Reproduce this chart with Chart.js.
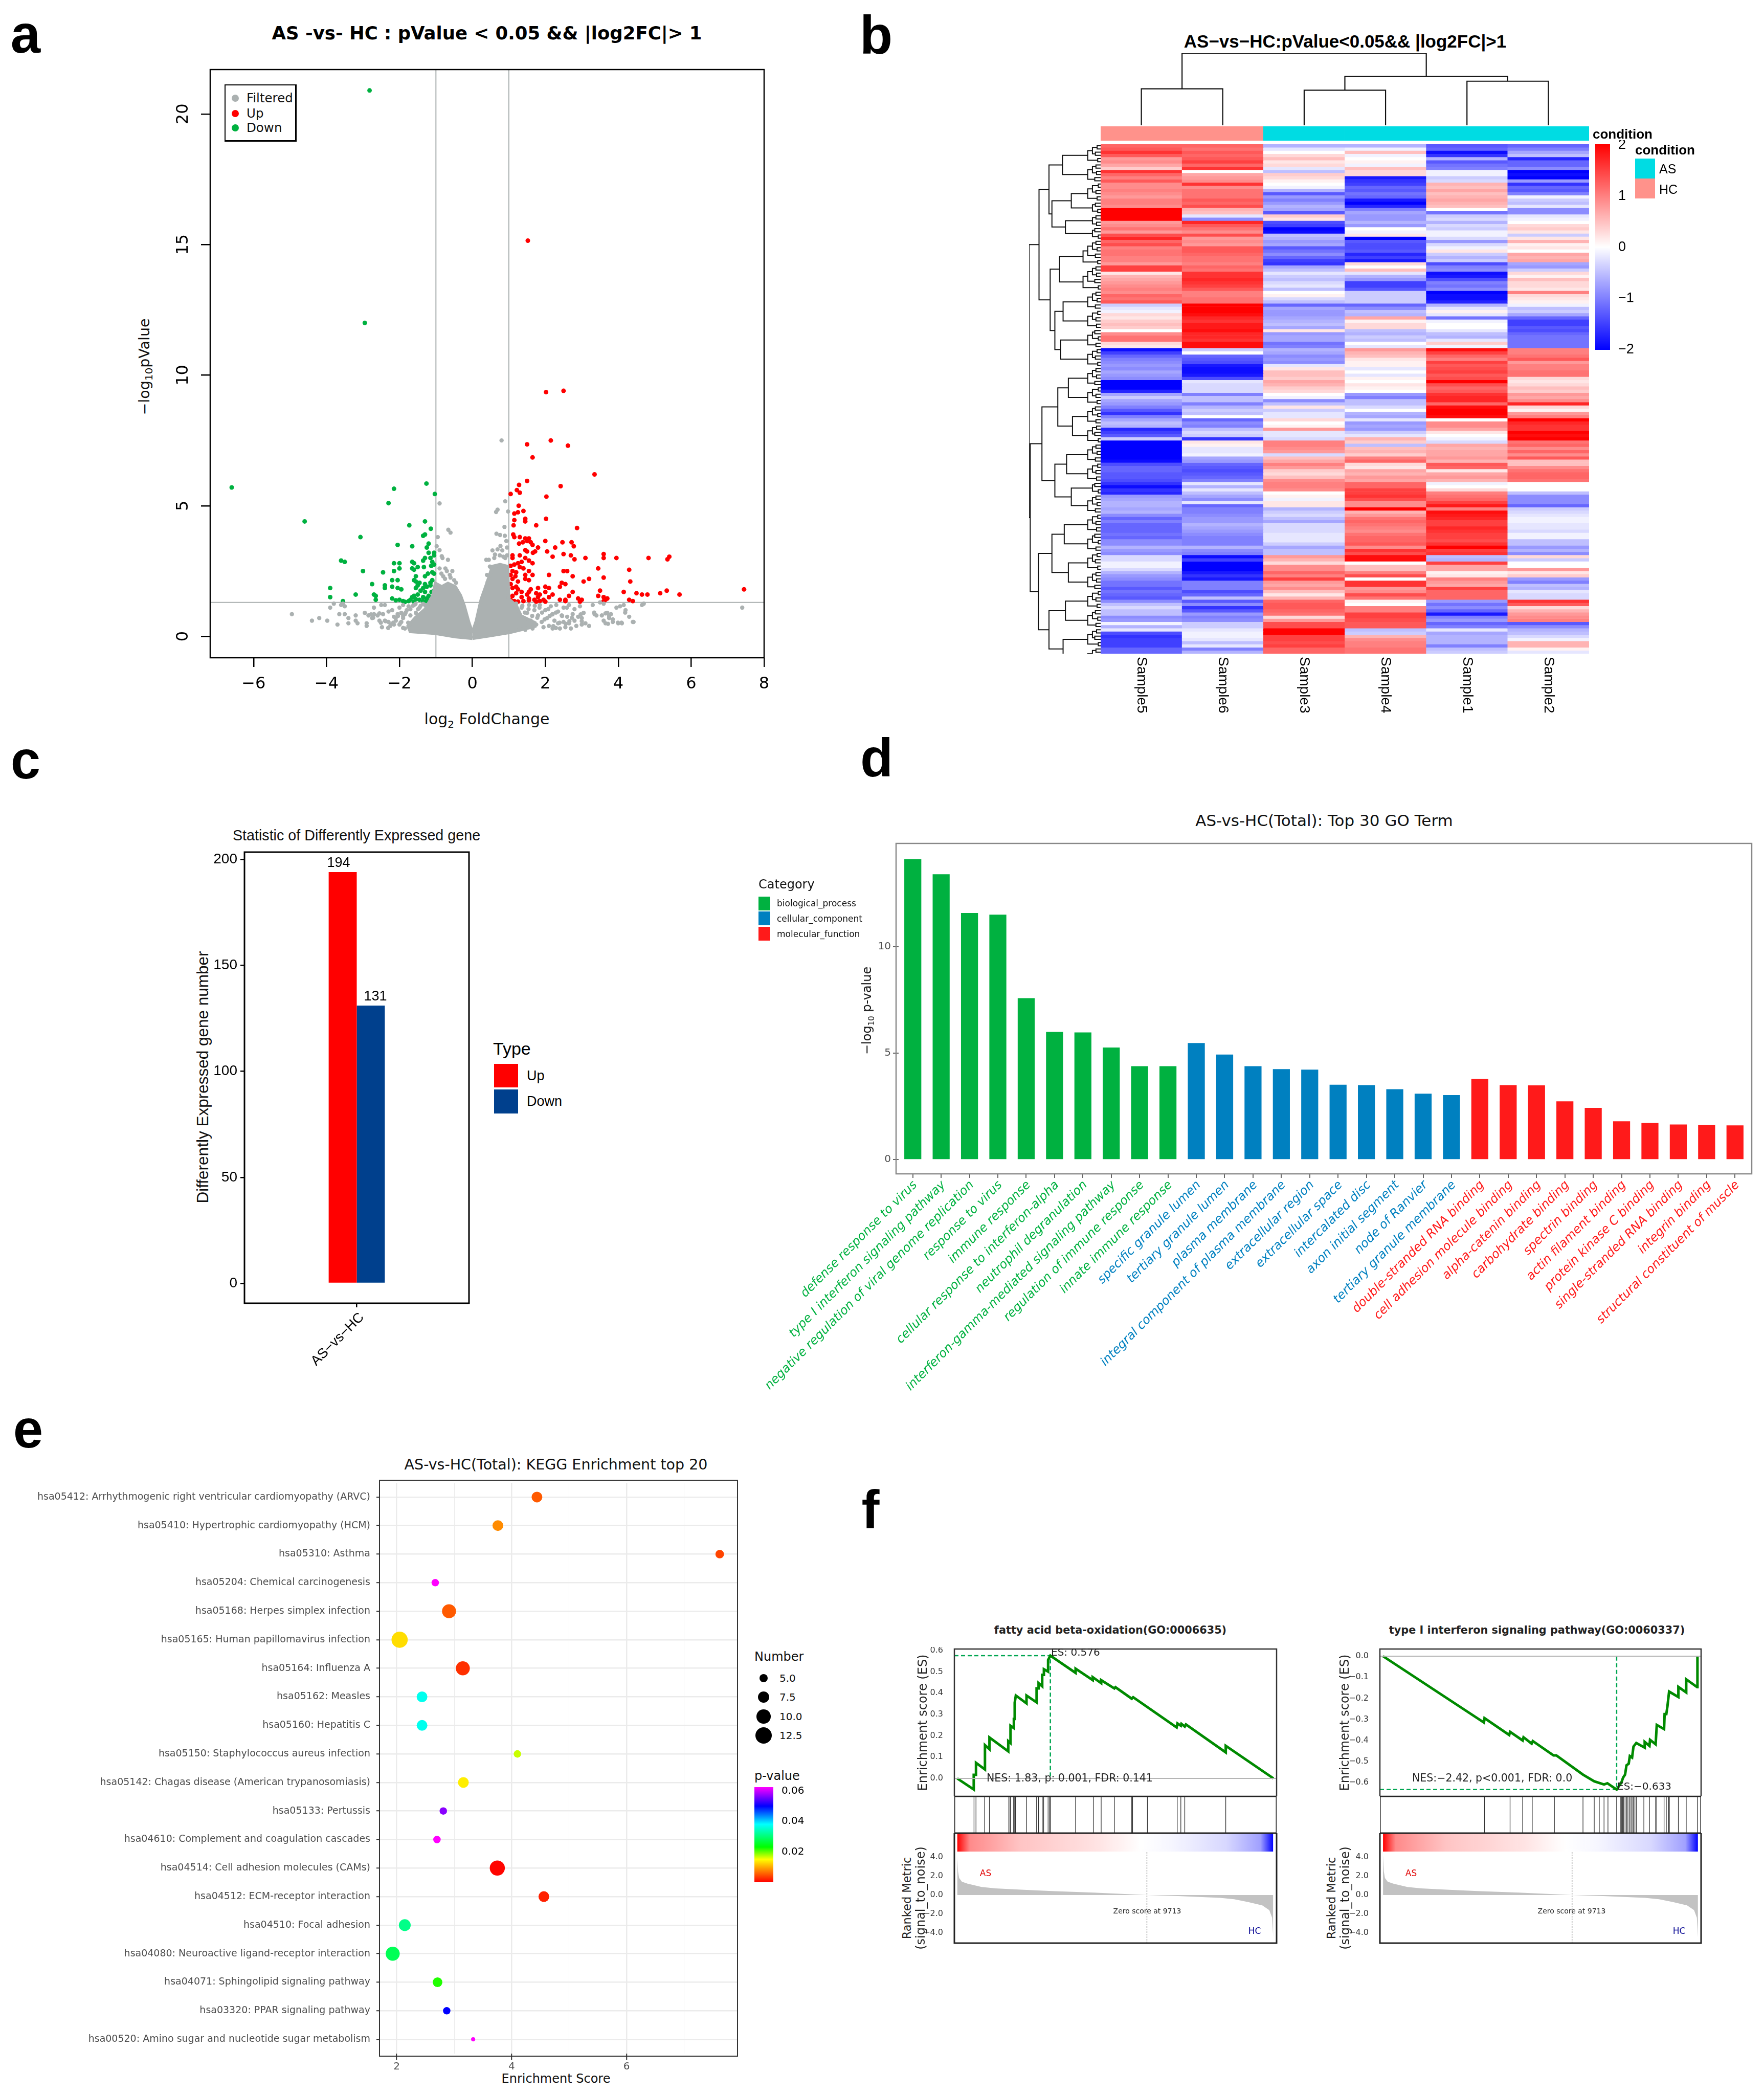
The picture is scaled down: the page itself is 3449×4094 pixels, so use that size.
<!DOCTYPE html>
<html>
<head>
<meta charset="utf-8">
<script src="https://cdn.jsdelivr.net/npm/chart.js@4"></script>
<style>
html, body { margin: 0; background: #fff; }
#page { position: relative; width: 3449px; height: 4094px; overflow: hidden; }
canvas { position: absolute; }
.t { position: absolute; white-space: pre; line-height: 1; color: #000; }
.s { position: absolute; }
</style>
</head>
<body>
<div id="page"></div>
<script>
/* a: volcano, [log2FC, -log10 p] */
const volcanoTicksX = [-6, -4, -2, 0, 2, 4, 6, 8];
const volcanoTicksY = [0, 5, 10, 15, 20];
const foldCut = [-1, 1];
const pvalueCut = [1.3];
const cloudLeft = [[0,.12],[-.1,.52],[-.23,1.17],[-.33,1.56],[-.47,1.89],[-.67,2.02],[-.84,1.89],[-1.01,2.02],[-1.08,1.56],[-1.29,1.04],[-1.56,.71],[-1.76,.39],[-1.7,.19],[-1.01,.12],[-.47,-.01],[0,-.07]];
const cloudRight = [[0,.12],[.11,.58],[.25,1.43],[.35,1.82],[.48,2.35],[.55,2.67],[.76,2.74],[.96,2.67],[.99,1.43],[1.2,1.17],[1.33,.78],[1.71,.52],[1.71,.39],[1.03,.16],[.48,.03],[0,-.07]];
const filteredPoints = [[.8,7.5],[-.9,5.09],[.9,5.17],[.98,4.78],[.65,4.76],[.69,4.85],[-.66,4.08],[-.6,3.97],[.88,4.19],[.66,3.93],[.76,3.88],[.89,3.85],[.93,3.65],[.77,3.46],[.69,3.33],[.55,3.29],[.82,3.29],[.62,3.13],[.38,2.93],[.45,2.93],[.48,2.67],[.4,2.35],[.42,2.08],[.95,3.4],[.95,3.1],[.9,3.0],[.6,3.0],[.75,3.1],[.85,3.05],
[-.95,3.8],[-.98,3.45],[-.9,3.3],[-.84,3.07],[-.82,3],[-.67,2.93],[-.9,2.6],[-.74,2.6],[-.7,2.5],[-.85,2.4],[-.8,2.3],[-.62,2.35],[-.55,2.5],[-.6,2.25],[-.75,2.2],[-.5,2.15],[-.45,2.05],
[-4.95,.85],[-4.4,.6],[-4.2,.7],[-3.98,.6],[-3.9,1.1],[-3.8,1.25],[-3.6,1.2],[-3.55,1.25],[-3.5,1.15],[-3.65,.85],[-3.5,.85],[-3.4,.7],[-3.7,.45],[-3.4,.5],[-3.2,.8],[-3.2,.6],[-3.15,.5],[-2.9,.5],[-2.9,.4],[-2.95,.9],[-2.85,.8],[-2.7,.85],[-2.7,1.1],[-2.75,.7],[-2.6,.8],[-2.55,.6],[-2.5,1.2],[-2.4,1.2],[-2.45,.85],[-2.4,.6],[-2.3,.55],[-2.25,.4],[-2.2,1.0],[-2.15,.75],[-2.1,.6],[-2.05,.85],[-2.0,.45],[-1.95,.9],[-1.9,1.2],[-1.9,.7],[-1.85,.3],[-1.8,1.0],[-1.75,.5],[-1.7,.8],[-1.65,.3],[-1.6,1.2],[-1.6,.6],[-1.55,.9],[-1.5,.25],[-1.5,.5],[-1.45,1.1],[-1.4,.7],[-1.35,.35],[-1.3,1.2],[-1.3,.9],[-1.25,.5],[-1.2,.25],[-1.15,1.0],[-1.1,.7],[-1.05,1.2],[-1.0,.4],[-2.3,.95],[-2.0,1.1],[-1.75,1.15],[-2.15,.45],[-1.95,.55],[-1.7,.4],[-1.85,.85],
[-2.1,.71],[-1.97,.52],[-1.9,.32],[-1.83,.91],[-1.7,1.04],[-1.63,1.17],[-1.56,1.24],[-1.49,1.04],[-1.76,.52],[-1.63,.45],[-1.9,.78],[-2.04,.78],[-2.24,.45],[-2.38,.58],[-2.17,.52],[-2.51,.52],[-2.72,.71],[-2.78,.84],[-2.55,.88],[-2.31,.32],[-2.48,.35],[-1.35,1.24],[-1.42,1.17],
[1.05,1.2],[1.1,.9],[1.15,.6],[1.2,1.25],[1.25,.35],[1.3,.8],[1.35,1.1],[1.4,.5],[1.45,.25],[1.5,.9],[1.55,1.2],[1.6,.6],[1.65,.3],[1.7,1.0],[1.75,.45],[1.8,.8],[1.85,1.2],[1.9,.55],[1.95,.35],[2.0,1.0],[2.05,.7],[2.1,.4],[2.15,1.15],[2.2,.85],[2.2,.3],[2.25,.6],[2.3,1.2],[2.35,.95],[2.35,.5],[2.4,.3],[2.45,.8],[2.5,1.1],[2.5,.55],[2.55,.35],[2.6,.75],[2.65,1.2],[2.65,.5],[2.7,.3],[2.75,.85],[2.8,.6],[2.85,.4],[2.9,.75],[2.95,1.15],[3.0,.7],[3.0,.45],[3.05,.9],[3.1,.5],[3.2,.4],[3.3,1.2],[3.35,.85],[3.4,.8],[3.5,1.3],[3.55,.8],[3.6,1.25],[3.6,.6],[3.65,.5],[3.7,.9],[3.75,.7],[3.8,.85],[3.85,.55],[3.95,1.1],[4.0,.5],[4.05,1.15],[4.1,.5],[4.15,1.2],[4.2,1.0],[4.3,.75],[4.4,.55],[4.65,1.2],[4.7,1.25],[7.4,1.1],
[1.23,1.04],[1.37,1.17],[1.44,.91],[1.54,1.04],[1.64,.78],[1.71,1.17],[1.78,.71],[1.84,1.1],[1.91,.91],[1.98,.65],[2.08,1.04],[2.12,.78],[2.19,.84],[2.22,.39],[2.29,.91],[2.29,.32],[2.39,.52],[2.46,.78],[2.56,.48],[2.66,.58],[2.73,.71],[2.59,1.1],[2.8,1.04],[2.97,.84],[3.0,.58],[3.34,.91],[3.65,.88],[3.75,.78],[3.72,.48],[3.85,.65],[4.19,.91],[3.99,.52],[4.09,.52],[4.42,.55]];
const upPoints = [[1.52,15.15],[2.02,9.35],[2.5,9.4],[2.15,7.5],[2.62,7.3],[1.5,7.35],[1.65,6.85],[3.35,6.2],[1.5,5.95],[1.28,5.8],[1.22,5.6],[1.3,5.5],[1.05,5.45],[2.42,5.75],[2.03,5.35],[1.27,5.0],[1.25,4.75],[1.15,4.7],[1.4,4.8],[1.15,4.45],[1.45,4.5],[1.45,4.4],[2.02,4.5],[1.13,4.25],[1.75,4.25],[2.87,4.15],[1.12,3.9],[1.15,3.8],[1.3,3.8],[1.45,3.75],[1.55,3.75],[1.5,3.65],[1.38,3.6],[1.6,3.6],[1.65,3.5],[1.28,3.55],[2.0,3.65],[2.47,3.6],[2.72,3.6],[2.78,3.45],[2.27,3.4],[1.8,3.4],[1.72,3.25],[1.66,3.2],[2.05,3.25],[1.3,3.1],[1.1,3.1],[1.5,3.25],[1.45,3.3],[2.5,3.15],[2.7,3.1],[2.2,3.05],[3.6,3.15],[3.6,3.0],[3.1,3.0],[2.8,2.95],[3.95,3.0],[4.83,3.0],[5.4,3.05],[5.35,2.95],[1.1,3.0],[1.45,3.0],[1.55,2.9],[1.35,2.85],[1.25,2.8],[1.15,2.75],[1.65,2.8],[1.05,2.7],[1.3,2.65],[1.4,2.6],[2.5,2.5],[2.6,2.5],[3.45,2.6],[4.3,2.55],[1.1,2.5],[1.2,2.45],[1.55,2.5],[1.05,2.35],[1.18,2.3],[1.45,2.35],[1.65,2.35],[2.1,2.35],[2.75,2.3],[3.6,2.25],[3.2,2.2],[3.05,2.1],[1.1,2.2],[1.25,2.1],[1.45,2.2],[1.55,2.15],[4.33,2.1],[2.45,2.05],[2.55,2.0],[1.05,2.0],[1.2,1.9],[2.0,1.9],[2.1,1.85],[2.4,1.9],[1.1,1.85],[1.25,1.8],[1.6,1.8],[1.8,1.85],[2.75,1.7],[3.5,1.75],[1.35,1.7],[1.55,1.7],[1.75,1.65],[2.0,1.7],[2.65,1.55],[3.45,1.55],[3.6,1.5],[1.2,1.65],[1.5,1.6],[1.85,1.6],[2.2,1.6],[4.15,1.7],[4.5,1.65],[4.65,1.6],[4.8,1.6],[5.15,1.65],[5.33,1.75],[5.68,1.6],[7.45,1.8],[1.1,1.55],[1.35,1.5],[1.55,1.45],[1.8,1.5],[2.1,1.5],[2.55,1.4],[2.9,1.45],[3.0,1.4],[3.7,1.45],[3.65,1.4],[4.3,1.4],[4.4,1.35],[1.05,1.4],[1.15,1.35],[1.25,1.33],[1.4,1.35],[1.55,1.38],[1.7,1.4],[1.85,1.35],[1.95,1.4],[2.4,1.4],[2.55,1.35],[2.95,1.33],[3.6,1.35],[1.1,1.33],[1.75,1.33],[2.0,1.33]];
const downPoints = [[-2.82,20.9],[-2.95,12.0],[-6.6,5.7],[-4.6,4.4],[-2.15,5.65],[-2.3,5.1],[-1.26,5.85],[-1.03,5.45],[-1.3,4.4],[-1.73,4.25],[-1.14,4.12],[-1.3,3.9],[-1.35,3.85],[-3.07,3.8],[-2.05,3.5],[-1.65,3.45],[-1.2,3.55],[-1.25,3.4],[-1.2,3.2],[-1.05,3.2],[-1.05,3.1],[-1.15,3.0],[-1.3,3.0],[-1.35,2.9],[-1.65,2.85],[-1.6,2.8],[-2.15,2.8],[-2.0,2.8],[-1.1,2.85],[-1.05,2.75],[-1.13,2.7],[-1.33,2.65],[-1.5,2.65],[-1.65,2.6],[-1.6,2.55],[-2.0,2.6],[-2.15,2.5],[-3.6,2.9],[-3.5,2.85],[-3.0,2.5],[-1.1,2.45],[-1.05,2.4],[-1.22,2.4],[-1.3,2.3],[-1.55,2.3],[-1.6,2.15],[-1.1,2.15],[-1.15,2.05],[-1.3,2.0],[-1.45,2.05],[-1.55,2.1],[-2.05,2.15],[-2.2,2.15],[-2.45,2.45],[-2.75,2.0],[-2.2,1.9],[-2.4,1.95],[-2.4,1.85],[-2.05,1.85],[-1.95,1.8],[-1.15,1.95],[-1.25,1.9],[-1.35,1.85],[-1.5,1.95],[-1.55,1.85],[-3.9,1.85],[-1.05,1.75],[-1.12,1.7],[-1.3,1.7],[-1.42,1.75],[-1.5,1.6],[-1.6,1.55],[-1.65,1.5],[-2.7,1.6],[-2.65,1.55],[-3.2,1.6],[-3.9,1.5],[-1.1,1.5],[-1.2,1.55],[-1.25,1.45],[-1.35,1.5],[-1.45,1.4],[-1.55,1.42],[-1.7,1.4],[-1.9,1.35],[-2.0,1.4],[-2.2,1.45],[-2.1,1.38],[-2.65,1.4],[-3.55,1.35],[-1.05,1.4],[-1.15,1.38],[-1.25,1.35],[-1.35,1.35],[-1.05,1.33],[-1.6,1.33],[-1.75,1.35],[-1.85,1.32]];

/* b: heatmap, rows top to bottom, columns as in sampleNames */
const sampleNames = ['Sample5', 'Sample6', 'Sample3', 'Sample4', 'Sample1', 'Sample2'];
const sampleCondition = ['HC', 'HC', 'AS', 'AS', 'AS', 'AS'];
const heatRows = [
[1.2,1.2,-.6,-.6,-1.3,-1.2],[1.3,1.1,-.2,-.1,-1.2,-1.0],[1.6,1.3,0,.5,-1.9,-.7],[1.3,1.2,.3,-.1,-1.6,-.5],[.8,1.3,.5,0,-.6,-1.7],[.9,1.5,.2,.1,-1.3,-1.2],[.7,1.2,.3,-.1,-1.1,-1.2],[.4,1.6,-.2,.5,-1.0,-.9],
[1.6,0,-.5,.3,-.1,-2],[1.2,.7,.4,.3,-.1,-1.9],[1.0,.8,.3,-1.8,-.4,-2],[1.3,.9,.1,-1.6,-.3,-.8],[.9,1.6,0,-1.5,.6,-1.6],[.9,.9,-.1,-1.2,.5,-1.2],[1.0,1.1,-.6,-1.3,.7,-1.3],[.9,1.1,-1.3,-1.1,.5,-1.0],
[.8,1.1,-.8,-1.2,.6,-.1],[1.0,1.3,-1.0,-1.8,.7,-.4],[1.0,1.2,-.8,-2,.6,-.5],[.9,1.4,-.6,-1.7,.5,-.2],[2,.6,-.7,-1.0,0,-.9],[2,.5,-1.3,-.7,-1.1,-.9],[2,-.2,.4,-.8,-.4,-.2],[2,-.9,.2,-.8,-.3,-.1],
[.8,1.7,-1.4,-.6,-.6,0],[.9,1.3,-1.5,-.8,-.3,.3],[1.1,1.1,-2,0,-.4,.4],[.8,.9,-1.9,-.1,-.1,.2],[1.4,1.4,-.5,.2,-.1,-.4],[1.7,.8,-.6,-2,-.3,.2],[1.2,.9,-.8,-1.3,-.8,.6],[1.4,.8,-.7,-1.4,-.3,.1],
[1.0,1.3,-1.3,-1.4,-.1,.2],[1.1,1.3,-1.1,-1.3,.2,0],[1.1,1.2,-.9,-1.7,-.4,.7],[1.0,1.1,-1.2,-1.5,-.6,.6],[1.0,1.1,-1.5,-1.8,-.4,.7],[.8,1.0,-1.6,.3,-1.4,-.7],[1.5,1.2,-.7,0,-1.0,-.8],[1.5,1.1,-.5,.5,-.9,-.4],
[.2,1.6,-.2,-.2,-1.9,.3],[.6,1.6,-.4,-.6,-1.8,.1],[.7,1.7,-.5,-.8,-1.4,.5],[.8,1.6,-.3,-1.5,-1.0,.3],[.9,1.5,-.2,-1.5,-1.1,.3],[1.0,1.3,-.5,-1.3,-.9,.2],[.9,1.0,0,-.4,-2,1.0],[1.2,1.0,.1,-.4,-1.9,.3],
[1.1,1.1,-.3,-.4,-1.9,.2],[1.3,1.1,-.5,-.4,-1.7,.1],[-.4,2,-1.2,-1.2,-.6,-.1],[-.2,2,-.7,-.9,-.2,-.5],[-.1,2,-.8,-.5,.1,-.4],[.3,1.9,-.8,-.6,-.2,-.7],[.2,1.7,-.7,.7,-1.1,-1.2],[.4,1.6,-.6,.1,-.1,-1.5],
[.5,1.8,-.5,.3,0,-1.5],[.4,1.8,-.7,.3,0,-1.3],[0,1.9,.2,-.5,-.2,-1.4],[.9,1.7,-.8,-.6,-.5,-1.2],[1.1,1.7,-.7,-.4,-.6,-1.1],[1.1,1.6,-.7,-.5,-.2,-1.1],[.3,1.9,-1.1,0,.4,-1.1],[.2,1.9,-1.0,-.2,-.1,-1.1],
[-1.9,-.4,-.6,.8,1.9,1.0],[-1.5,0,-.7,.6,1.5,1.0],[-1.2,-1.2,-.9,.5,1.2,1.1],[-1.0,-1.3,-.8,.2,1.0,1.3],[-.9,-1.4,-.9,.1,1.5,.8],[-.8,-1.8,-.2,.1,1.3,1.0],[-.9,-1.9,.2,-.2,1.4,1.0],[-.7,-1.9,.5,0,1.5,1.1],
[-.8,-1.8,.5,-.2,1.3,1.1],[-.9,-1.4,.4,.1,1.4,.3],[-2,-.2,.7,0,2,.2],[-2,-.3,.6,.2,1.4,.3],[-2,-.3,.4,.1,1.2,.5],[-1.7,-.3,.3,0,1.3,.4],
[-.7,-1.0,0,-.8,1.6,.8],[-.4,-.5,-.1,-1.0,1.7,.7],[-.7,-.5,-.9,-.5,1.7,.9],[-.8,-1.0,-.5,-.5,1.2,1.7],[-1.0,-.6,.2,-.3,1.9,.3],[-1.3,-.4,-.4,0,2,.1],[-1.6,-.5,-.2,-.6,2,.8],[-1.0,0,-.2,-.7,1.9,1.0],
[-.7,-1.2,.3,-.2,0,2],[-.5,-.9,0,-.8,.9,1.7],[-.6,-1.0,.1,-.7,.9,1.6],[-1.7,-.5,.8,-.8,.7,1.6],[-1.5,-.3,-.2,-.4,.2,2],[-1.3,-.4,-.2,-.2,0,1.9],[-.4,-1.6,-.3,.6,-.1,2],[-2,.2,1.0,.4,-.3,1.1],
[-2,.1,1.0,-.5,.7,1.2],[-2,-.2,.9,.5,.6,.9],[-2,-.2,.8,.6,.7,1.2],[-2,-.1,-.3,.4,.7,.9],[-2,-.7,.5,1.0,.8,1.3],[-1.9,-.8,.7,1.2,.6,.5],[-1.4,-1.2,1.0,.3,1.3,.5],[-1.2,-1.3,.8,.2,1.2,.9],
[-1.2,-1.4,.4,.7,.2,1.1],[-1.3,-1.3,.3,.6,.7,1.2],[-1.3,-1.2,.5,.8,.8,1.2],[-1.4,-1.0,.9,.7,.6,1.1],[-1.6,-.2,1.0,1.2,-.1,0],[-1.9,-.6,1.0,1.2,0,0],[-1.6,-.2,.9,1.5,.3,0],[-1.7,-.5,0,1.5,1.0,-.5],
[-.8,-.7,.1,1.6,1.1,-.9],[-.7,-.9,-.1,1.4,1.2,-.9],[-.6,-.2,.2,.9,1.5,-.9],[-.6,-1.2,.2,.9,1.8,-1.2],[-.7,-1.0,-.6,2,1.0,-.4],[-.6,-1.0,-.4,.6,1.9,-.3],[-.9,-.9,-.3,.8,1.8,-.2],[-1.2,-.8,-.5,1.1,1.7,-.1],
[-1.0,-.8,-.7,1.2,1.5,-.1],[-1.2,-.6,-.3,1.1,1.5,-.2],[-1.2,-.7,-.3,1.0,1.7,-.2],[-1.2,-.8,-.3,.9,1.6,-.3],[-1.1,-.9,-.2,1.1,1.5,-.1],[-1.2,-1.0,-.2,1.2,1.5,-.1],[-.9,-1.0,-.2,1.2,1.4,-.5],[-.9,-1.0,-.4,1.3,1.6,-.5],
[-.6,-.6,-.7,.9,2,-.8],[-.8,-.9,-.5,1.6,1.5,-.6],[-.9,-1.0,-.5,1.4,1.6,-.9],[-.3,-1.9,.8,1.9,-.5,.3],[-.3,-1.5,.6,1.9,-.6,-.4],[-.1,-2,.3,0,1.5,0],[-.1,-2,.9,.5,.7,0],[-.3,-2,.9,.5,.7,.8],
[-.6,-1.8,1.2,1.0,.1,.2],[-.8,-1.6,1.0,1.4,.2,.4],[-.9,-1.8,1.5,0,1.0,-.8],[-1.1,-1.0,.8,1.6,.8,-1.0],[-1.1,-1.0,.7,1.6,.7,-.5],[-1.3,-1.0,.9,.8,1.5,-.6],[-1.1,-1.4,.5,.9,1.2,-.2],[-1.2,-1.2,.2,1.4,1.2,-.3],
[-1.3,-.5,.6,1.1,1.2,-.3],[-.9,-1.3,1.2,.1,-.8,1.6],[-.5,-.9,1.3,0,-1.1,1.3],[-.3,-1.6,1.3,1.0,-.9,.3],[-.5,-1.3,1.2,1.0,-1.2,.6],[-.5,-.8,1.1,1.5,-1.8,.8],[-.9,-1.0,.3,1.5,-1.0,.9],[-.8,-.9,.8,1.4,-.8,1.0],
[-.1,-.4,1.4,1.3,-1.2,-1.3],[-.6,-.4,1.4,1.3,-1.0,-.9],[-.2,-.2,2,-.5,-.2,-.6],[-1.4,-.1,2,-.4,-.7,-.5],[-1.6,-.1,1.5,.6,-.6,-.3],[-1.5,-.2,1.5,.9,-.6,-.1],[-1.5,-.5,1.4,1.0,-.6,.6],[-1.5,-.2,1.5,1.0,-1.0,.6],
[-1.2,-1.0,1.2,1.1,-.5,.1],[-1.2,-.6,1.2,1.1,-.4,-.2]];
const heatTicks = [-2, -1, 0, 1, 2];
/* dendrograms: [height, left, right], a plain number is a run of that many leaf pairs */
const rowTree = [122,
  [105, [88, [65, 3, 3], [83, [50, 3, 2], [60, 2, 2]]], [86, [70, 4, 4], [78, [64, 3, 3], [68, 3, 3]]]],
  [120, [100, [73, [55, 3, 3], [48, 3, 3]], [78, [58, 3, 3], [50, 2, 3]]], [106, [83, [62, 3, 3], [55, 3, 3]], [88, [60, 3, 3], [64, 3, 3]]]]];
const leafHeights = [6, 9, 5, 8, 7, 10, 4, 8];
const runHeights = [14, 22, 30, 38];
const colTree = [[.5, 1.5, 77, 0, 0], [2.5, 3.5, 74, 0, 0], [4.5, 5.5, 93, 0, 0], [3, 5, 103, 74, 93], [1, 4, 152, 77, 103]];

/* c */
const degGroups = ['AS\u2212vs\u2212HC'];
const degUp = [194];
const degDown = [131];
const degTicks = [0, 50, 100, 150, 200];

/* d */
const goTerms = ['defense response to virus','type I interferon signaling pathway','negative regulation of viral genome replication','response to virus','immune response','cellular response to interferon-alpha','neutrophil degranulation','interferon-gamma-mediated signaling pathway','regulation of immune response','innate immune response',
'specific granule lumen','tertiary granule lumen','plasma membrane','integral component of plasma membrane','extracellular region','extracellular space','intercalated disc','axon initial segment','node of Ranvier','tertiary granule membrane',
'double-stranded RNA binding','cell adhesion molecule binding','alpha-catenin binding','carbohydrate binding','spectrin binding','actin filament binding','protein kinase C binding','single-stranded RNA binding','integrin binding','structural constituent of muscle'];
const goValues = [14.12,13.41,11.59,11.51,7.59,6.0,5.98,5.27,4.39,4.39,5.48,4.94,4.39,4.25,4.23,3.52,3.5,3.31,3.1,3.03,3.79,3.5,3.49,2.74,2.43,1.8,1.72,1.65,1.63,1.61];
const goCategory = ['bp','bp','bp','bp','bp','bp','bp','bp','bp','bp','cc','cc','cc','cc','cc','cc','cc','cc','cc','cc','mf','mf','mf','mf','mf','mf','mf','mf','mf','mf'];
const goTicks = [0, 5, 10];

/* e */
const keggTerms = ['hsa05412: Arrhythmogenic right ventricular cardiomyopathy (ARVC)','hsa05410: Hypertrophic cardiomyopathy (HCM)','hsa05310: Asthma','hsa05204: Chemical carcinogenesis','hsa05168: Herpes simplex infection','hsa05165: Human papillomavirus infection','hsa05164: Influenza A','hsa05162: Measles','hsa05160: Hepatitis C','hsa05150: Staphylococcus aureus infection','hsa05142: Chagas disease (American trypanosomiasis)','hsa05133: Pertussis','hsa04610: Complement and coagulation cascades','hsa04514: Cell adhesion molecules (CAMs)','hsa04512: ECM-receptor interaction','hsa04510: Focal adhesion','hsa04080: Neuroactive ligand-receptor interaction','hsa04071: Sphingolipid signaling pathway','hsa03320: PPAR signaling pathway','hsa00520: Amino sugar and nucleotide sugar metabolism'];
const keggScore = [4.44,3.76,7.62,2.67,2.91,2.05,3.15,2.44,2.44,4.1,3.16,2.81,2.7,3.75,4.56,2.14,1.93,2.71,2.87,3.33];
const keggPvalue = [.0053,.0082,.004,.063,.0053,.013,.0028,.037,.037,.0167,.014,.057,.063,.0003,.0019,.031,.028,.022,.05,.063];
const keggNumber = [7,7,5,4,10,12,10,7,7,4,7,4,4,11,7,8,10,6,4,1];
const keggTicks = [2, 3, 4, 5, 6, 7];
const numberLegend = [5.0, 7.5, 10.0, 12.5];
const pvalueTicks = [.02, .04, .06];

/* f */
const es1Rank = [0,848,848,963,963,1422,1422,1652,1652,2615,2615,2730,2730,2902,2902,2945,2945,3003,3549,3549,4066,4066,4167,4167,4353,4353,4440,4440,4655,4655,4770,6063,6063,6940,6940,7371,7371,8046,8103,8937,9009,11236,11279,11451,11480,11652,11710,13750,13750,16193];
const es1Score = [0,-.052,.017,.017,.073,.042,.156,.137,.192,.127,.175,.166,.247,.236,.279,.279,.355,.389,.352,.389,.357,.422,.422,.447,.432,.486,.486,.512,.501,.556,.576,.495,.515,.461,.475,.447,.461,.422,.428,.374,.381,.239,.258,.247,.256,.243,.253,.122,.153,0];
const hits1 = [862,963,1408,1652,2644,2701,2730,2888,2945,2989,3549,4066,4167,4353,4425,4655,4727,4770,6063,6969,7371,8046,8937,8980,9741,11264,11451,11652,13750];
const es2Rank = [0,5187,5216,6484,6527,7176,7219,7637,7695,8761,8905,10274,10851,11355,11528,12003,12248,12335,12436,12508,12623,12681,12796,12868,13012,13444,13444,13689,13718,14006,14064,14439,14467,14554,14612,14698,15174,15174,15577,15577,16139,16154];
const es2Score = [0,-.315,-.294,-.374,-.359,-.4,-.385,-.415,-.403,-.471,-.471,-.562,-.594,-.609,-.603,-.633,-.599,-.576,-.562,-.518,-.51,-.474,-.481,-.429,-.412,-.434,-.407,-.426,-.397,-.418,-.326,-.346,-.275,-.275,-.238,-.168,-.194,-.146,-.172,-.11,-.147,.0];
const hits2 = [5216,6528,7176,7666,8805,10274,10851,11110,11355,11557,12003,12191,12248,12306,12364,12436,12508,12580,12652,12738,12796,12868,12940,13012,13401,13689,14006,14064,14439,14554,14669,14712,15174,15577,16154];
const metricRank = [0,43,100,244,531,1250,1968,3405,4842,7000,9713,11309,13464,14183,14900,15620,15979,16123,16180];
const metricValue = [4.2,2.5,1.8,1.4,1.2,.85,.7,.55,.42,.25,0,-.12,-.3,-.45,-.75,-1.1,-1.6,-2.4,-4.5];
const es1Ticks = [0, .1, .2, .3, .4, .5, .6];
const es2Ticks = [0, -.1, -.2, -.3, -.4, -.5, -.6];
const metricTicks = [-4, -2, 0, 2, 4];

const page = document.getElementById('page');
const DEJAVU = '"DejaVu Sans"';
const ARIAL = '"Liberation Sans"';

Chart.register({
  id: 'frame',
  afterDatasetsDraw(chart, args, o) {
    if (!o.width) return;
    const a = chart.chartArea, c = chart.ctx;
    c.save();
    c.strokeStyle = o.color;
    c.lineWidth = o.width;
    c.strokeRect(a.left - (o.ox || 0), a.top - (o.oy || 0), a.width + 2 * (o.ox || 0), a.height + 2 * (o.oy || 0));
    c.restore();
  }
});
// tick labels Chart.js cannot centre when turned by 90 degrees
Chart.register({
  id: 'turned',
  afterDraw(chart, args, o) {
    if (!o.axis) return;
    const s = chart.scales[o.axis], c = chart.ctx;
    c.save();
    c.font = o.font;
    c.fillStyle = '#000';
    c.textBaseline = 'middle';
    s.ticks.forEach((t, i) => {
      const p = s.getPixelForTick(i);
      c.save();
      if (o.axis === 'y') {
        c.translate(s.right - o.off, p);
        c.rotate(-Math.PI / 2);
        c.textAlign = 'center';
      } else {
        c.translate(p, chart.chartArea.bottom + o.off);
        c.rotate(Math.PI / 2);
        c.textAlign = 'left';
      }
      c.fillText(o.labels ? o.labels[i] : String(t.value), 0, 0);
      c.restore();
    });
    c.restore();
  }
});

function txt(str, x, y, size, o) {
  o = o || {};
  const d = document.createElement('div');
  d.className = 't';
  d.textContent = str;
  d.style.cssText = `left:${x}px;top:${y}px;font-size:${size}px;font-family:${o.font || DEJAVU};` +
    `font-weight:${o.bold ? 'bold' : 'normal'};color:${o.color || '#000'};` +
    `transform:translate(${o.left ? '0' : '-50%'},-50%) rotate(${o.rot || 0}deg);`;
  page.appendChild(d);
  return d;
}
function html(str, x, y, size, o) {
  txt('', x, y, size, o).innerHTML = str;
}
function box(x, y, w, h, css) {
  const d = document.createElement('div');
  d.className = 's';
  d.style.cssText = `left:${x}px;top:${y}px;width:${w}px;height:${h}px;${css}`;
  page.appendChild(d);
}
// canvas whose plot area lands on L,T,R,B when the axes are fixed to the margins m
function canvasAt(L, T, R, B, m) {
  const c = document.createElement('canvas');
  c.width = R - L + m.l + m.r;
  c.height = B - T + m.t + m.b;
  c.style.cssText = `left:${L - m.l}px;top:${T - m.t}px;width:${c.width}px;height:${c.height}px;`;
  page.appendChild(c);
  return c.getContext('2d');
}
function baseOpts(m, plugins, hasX, hasY) {
  return {
    responsive: false, animation: false, devicePixelRatio: 1, events: [],
    layout: { padding: { left: hasY ? 0 : m.l, right: m.r, top: m.t, bottom: hasX ? 0 : m.b } },
    plugins: Object.assign({ legend: { display: false }, tooltip: { enabled: false } }, plugins)
  };
}
const fitX = h => s => { s.height = h; s.paddingLeft = 0; s.paddingRight = 0; };
const fitY = w => s => { s.width = w; s.paddingTop = 0; s.paddingBottom = 0; };
const fixedTicks = arr => s => { s.ticks = arr.map(v => ({ value: v })); };
const minus = s => s.replace('-', '\u2212');
const pts = a => a.map(p => ({ x: p[0], y: p[1] }));
const zip = (xs, ys) => xs.map((x, i) => ({ x: x, y: ys[i] }));

// gradient bar on a real value axis, used by b and e
function colorBar(L, T, R, B, lo, hi, ticks, stops, fmt, family, size, w) {
  const m = { l: 0, r: w, t: 8, b: 8 };
  new Chart(canvasAt(L, T, R, B, m), {
    type: 'bar',
    data: { labels: [''], datasets: [{
      data: [[lo, hi]], borderWidth: 0, barPercentage: 1, categoryPercentage: 1,
      backgroundColor: ctx => {
        const a = ctx.chart.chartArea;
        if (!a) return '#fff';
        const g = ctx.chart.ctx.createLinearGradient(0, a.bottom, 0, a.top);
        stops.forEach(s => g.addColorStop(s[0], s[1]));
        return g;
      }
    }] },
    options: Object.assign(baseOpts({ l: 0, r: 0, t: 8, b: 8 }, {}, false, true), { scales: {
      x: { display: false },
      y: { position: 'right', min: lo, max: hi, afterBuildTicks: fixedTicks(ticks), afterFit: fitY(w), border: { display: false },
        grid: { display: false },
        ticks: { color: '#000', padding: 8, font: { family: family, size: size }, callback: fmt } }
    } })
  });
}

/* ---------- a ---------- */
txt('a', 50, 66, 105, { font: ARIAL, bold: true });
txt('AS -vs- HC : pValue < 0.05 && |log2FC|> 1', 952, 65, 35.5, { bold: true });
(function () {
  const m = { l: 100, r: 20, t: 10, b: 90 };
  const xmin = -7.19, xmax = 8.0, ymin = -.82, ymax = 21.7, cut = '#aab0b0';
  const grey = '#abb1b1';
  new Chart(canvasAt(411, 136, 1494, 1286, m), {
    type: 'scatter',
    data: { datasets: [
      { data: pts(cloudLeft), showLine: true, fill: 'shape', backgroundColor: grey, borderColor: grey, borderWidth: 7, pointRadius: 0 },
      { data: pts(cloudRight), showLine: true, fill: 'shape', backgroundColor: grey, borderColor: grey, borderWidth: 7, pointRadius: 0 },
      { data: pts(filteredPoints), backgroundColor: grey, borderWidth: 0, pointRadius: 4.2 },
      { data: pts(upPoints), backgroundColor: '#ff0000', borderWidth: 0, pointRadius: 4.5 },
      { data: pts(downPoints), backgroundColor: '#00b140', borderWidth: 0, pointRadius: 4.5 },
      { data: [{ x: foldCut[0], y: ymin }, { x: foldCut[0], y: ymax }], showLine: true, borderColor: cut, borderWidth: 2, pointRadius: 0 },
      { data: [{ x: foldCut[1], y: ymin }, { x: foldCut[1], y: ymax }], showLine: true, borderColor: cut, borderWidth: 2, pointRadius: 0 },
      { data: [{ x: xmin, y: pvalueCut[0] }, { x: xmax, y: pvalueCut[0] }], showLine: true, borderColor: cut, borderWidth: 2, pointRadius: 0 }
    ] },
    options: Object.assign(baseOpts(m, {
      frame: { color: '#000', width: 2.5 },
      turned: { axis: 'y', font: `32px ${DEJAVU}`, off: 52, labels: volcanoTicksY.map(String) }
    }, true, true), { scales: {
      x: { type: 'linear', min: xmin, max: xmax, afterBuildTicks: fixedTicks(volcanoTicksX), afterFit: fitX(m.b), border: { display: false },
        grid: { drawOnChartArea: false, tickLength: 18, color: '#000', lineWidth: 2.5 },
        ticks: { color: '#000', font: { family: 'DejaVu Sans', size: 32 }, padding: 14, maxRotation: 0, autoSkip: false, callback: v => minus(String(v)) } },
      y: { min: ymin, max: ymax, afterBuildTicks: fixedTicks(volcanoTicksY), afterFit: fitY(m.l), border: { display: false },
        grid: { drawOnChartArea: false, tickLength: 18, color: '#000', lineWidth: 2.5 },
        ticks: { display: false } }
    } })
  });
  box(439, 165, 141, 112, 'border:2px solid #000;border-bottom-width:3px;border-right-width:3px;background:#fff;box-sizing:border-box;');
  [['Filtered', grey, 192], ['Up', '#ff0000', 222], ['Down', '#00b140', 250]].forEach(r => {
    box(453, r[2] - 7, 14, 14, `border-radius:50%;background:${r[1]};`);
    txt(r[0], 482, r[2], 24.5, { left: true, color: '#111' });
  });
  html('log<sub style="font-size:20px;line-height:0">2</sub> FoldChange', 952, 1406, 30, { color: '#111' });
  html('\u2212log<sub style="font-size:20px;line-height:0">10</sub>pValue', 283, 717, 28.5, { rot: -90, color: '#111' });
})();

/* ---------- b ---------- */
txt('b', 1713, 68, 105, { font: ARIAL, bold: true });
txt('AS\u2212vs\u2212HC:pValue<0.05&& |log2FC|>1', 2630, 80, 35, { font: ARIAL, bold: true });
(function () {
  const heatColor = v => {
    const t = Math.round(255 * (1 - Math.min(Math.abs(v), 2) / 2));
    return v >= 0 ? `rgb(255,${t},${t})` : `rgb(${t},${t},255)`;
  };
  const L = 2152, R = 3107, T = 282, B = 1278;
  let m = { l: 0, r: 0, t: 0, b: 125 };
  new Chart(canvasAt(L, T, R, B, m), {
    type: 'bar',
    data: { labels: sampleNames, datasets: heatRows.map(row => ({
      data: sampleNames.map(() => 1), backgroundColor: row.map(heatColor), borderWidth: 0, barPercentage: 1, categoryPercentage: 1
    })) },
    options: Object.assign(baseOpts(m, {
      turned: { axis: 'x', font: `28px ${ARIAL}`, off: 6, labels: sampleNames }
    }), { scales: {
      x: { stacked: true, display: false },
      y: { stacked: true, display: false, reverse: true, min: 0, max: heatRows.length }
    } })
  });
  // condition strip
  m = { l: 0, r: 0, t: 0, b: 0 };
  new Chart(canvasAt(L, 247, R, 275, m), {
    type: 'bar',
    data: { labels: sampleNames, datasets: [{ data: sampleNames.map(() => 1), backgroundColor: sampleCondition.map(c => c === 'AS' ? '#00dce3' : '#ff928b'), borderWidth: 0, barPercentage: 1, categoryPercentage: 1 }] },
    options: Object.assign(baseOpts(m), { scales: { x: { display: false }, y: { display: false, min: 0, max: 1 } } })
  });
  // column dendrogram
  const colSegs = [];
  colTree.forEach(b => colSegs.push({ x: b[0], y: b[3] }, { x: b[0], y: b[2] }, { x: b[1], y: b[2] }, { x: b[1], y: b[4] }, { x: b[1], y: null }));
  new Chart(canvasAt(L, 104, R, 245, m), {
    type: 'scatter',
    data: { datasets: [{ data: colSegs, showLine: true, borderColor: '#111', borderWidth: 2.2, pointRadius: 0, clip: false }] },
    options: Object.assign(baseOpts(m), { scales: { x: { type: 'linear', display: false, min: 0, max: 6 }, y: { display: false, min: 0, max: 152 } } })
  });
  // row dendrogram
  const rowSegs = [];
  const st = { row: 0, k: 0 };
  const join = (a, b, h) => {
    rowSegs.push({ x: a.h, y: a.y }, { x: h, y: a.y }, { x: h, y: b.y }, { x: b.h, y: b.y }, { x: b.h, y: null });
    return { h: h, y: (a.y + b.y) / 2 };
  };
  const walk = n => {
    if (typeof n === 'number') {
      let cur = null;
      for (let i = 0; i < n; i++) {
        const r = 2 * st.row++;
        const pair = join({ h: 0, y: r + .5 }, { h: 0, y: r + 1.5 }, leafHeights[st.k++ % leafHeights.length]);
        cur = cur ? join(cur, pair, runHeights[i - 1]) : pair;
      }
      return cur;
    }
    return join(walk(n[1]), walk(n[2]), n[0]);
  };
  walk(rowTree);
  new Chart(canvasAt(2012, T, L, B, m), {
    type: 'scatter',
    data: { datasets: [{ data: rowSegs, showLine: true, borderColor: '#111', borderWidth: 2, pointRadius: 0, clip: false }] },
    options: Object.assign(baseOpts(m), { scales: { x: { type: 'linear', display: false, reverse: true, min: 0, max: 122 }, y: { display: false, reverse: true, min: 0, max: heatRows.length } } })
  });
  colorBar(3119, 282, 3148, 684, -2, 2.02, heatTicks, [[0, '#0000ff'], [.5, '#ffffff'], [1, '#ff0000']], v => minus(String(v)), 'Liberation Sans', 27, 60);
  txt('condition', 3114, 262, 26, { font: ARIAL, bold: true, left: true });
  txt('condition', 3197, 293, 26, { font: ARIAL, bold: true, left: true });
  box(3197, 310, 39, 39, 'background:#00dce3;');
  box(3197, 349, 39, 39, 'background:#ff928b;');
  txt('AS', 3244, 330, 25, { font: ARIAL, left: true });
  txt('HC', 3244, 370, 25, { font: ARIAL, left: true });
})();

/* ---------- c ---------- */
txt('c', 50, 1485, 105, { font: ARIAL, bold: true });
txt('Statistic of Differently Expressed gene', 697, 1633, 28.7, { font: ARIAL, color: '#111' });
txt('Differently Expressed gene number', 397, 2106, 31.5, { font: ARIAL, rot: -90, color: '#111' });
(function () {
  const m = { l: 80, r: 4, t: 30, b: 160 };
  new Chart(canvasAt(478, 1666, 917, 2548, m), {
    type: 'bar',
    data: { labels: degGroups, datasets: [
      { data: degUp, backgroundColor: '#ff0000', borderWidth: 0, barPercentage: 1, categoryPercentage: .25 },
      { data: degDown, backgroundColor: '#00408d', borderWidth: 0, barPercentage: 1, categoryPercentage: .25 }
    ] },
    plugins: [{
      id: 'barValues',
      afterDatasetsDraw(chart) {
        const c = chart.ctx;
        c.save();
        c.font = `27px ${ARIAL}`;
        c.fillStyle = '#000';
        c.textAlign = 'center';
        c.textBaseline = 'bottom';
        [-8, 9].forEach((shift, i) => {
          const bar = chart.getDatasetMeta(i).data[0];
          c.fillText(String(chart.data.datasets[i].data[0]), bar.x + shift, bar.y - 4);
        });
        c.restore();
      }
    }],
    options: Object.assign(baseOpts(m, { frame: { color: '#000', width: 3 } }, true, true), { scales: {
      x: { afterFit: fitX(m.b), border: { display: false }, grid: { drawOnChartArea: false, tickLength: 8, color: '#000', lineWidth: 2.5, offset: false },
        ticks: { color: '#000', font: { family: 'Liberation Sans', size: 27 }, maxRotation: 45, minRotation: 45, padding: 4, labelOffset: 10 } },
      y: { min: -9.4, max: 203.4, afterBuildTicks: fixedTicks(degTicks), afterFit: fitY(m.l), border: { display: false },
        grid: { drawOnChartArea: false, tickLength: 8, color: '#000', lineWidth: 2.5 },
        ticks: { color: '#000', padding: 6, font: { family: 'Liberation Sans', size: 28 }, callback: v => String(v) } }
    } })
  });
  txt('Type', 964, 2050, 34, { font: ARIAL, left: true });
  box(966, 2080, 47, 46, 'background:#ff0000;');
  box(966, 2130, 47, 47, 'background:#00408d;');
  txt('Up', 1030, 2103, 27, { font: ARIAL, left: true });
  txt('Down', 1030, 2153, 27, { font: ARIAL, left: true });
})();

/* ---------- d ---------- */
txt('d', 1714, 1481, 105, { font: ARIAL, bold: true });
txt('AS-vs-HC(Total): Top 30 GO Term', 2589, 1604, 31, { color: '#111' });
(function () {
  const catColor = { bp: '#00b140', cc: '#0080c0', mf: '#ff1a1a' };
  const m = { l: 426, r: 20, t: 10, b: 480 };
  const colors = goCategory.map(c => catColor[c]);
  new Chart(canvasAt(1757, 1649, 3420, 2295, m), {
    type: 'bar',
    data: { labels: goTerms, datasets: [{ data: goValues, backgroundColor: colors, borderWidth: 0, barPercentage: .6, categoryPercentage: 1 }] },
    options: Object.assign(baseOpts(m, { frame: { color: '#888', width: 2.5, ox: 5 } }, true, true), { scales: {
      x: { afterFit: fitX(m.b), border: { display: false }, grid: { drawOnChartArea: false, tickLength: 8, color: '#666', lineWidth: 2, offset: false },
        ticks: { autoSkip: false, maxRotation: 45, minRotation: 45, padding: 0, labelOffset: 5, color: ctx => colors[ctx.index], font: { family: 'DejaVu Sans', style: 'italic', size: 24 } } },
      y: { min: -.67, max: 14.86, afterBuildTicks: fixedTicks(goTicks), afterFit: fitY(m.l), border: { display: false },
        grid: { drawOnChartArea: false, tickLength: 11, color: '#666', lineWidth: 2 },
        ticks: { color: '#4d4d4d', padding: 4, font: { family: 'DejaVu Sans', size: 20 }, callback: v => String(v) } }
    } })
  });
  html('\u2212log<sub style="font-size:15px;line-height:0">10</sub> p-value', 1695, 1976, 24, { rot: -90, color: '#111' });
  txt('Category', 1483, 1729, 24, { left: true, color: '#111' });
  [['biological_process', 'bp', 1753, 1766], ['cellular_component', 'cc', 1782, 1796], ['molecular_function', 'mf', 1812, 1826]].forEach(r => {
    box(1483, r[2], 23, 27, `background:${catColor[r[1]]};`);
    txt(r[0], 1519, r[3], 17, { left: true, color: '#111' });
  });
})();

/* ---------- e ---------- */
txt('e', 55, 2793, 105, { font: ARIAL, bold: true });
txt('AS-vs-HC(Total): KEGG Enrichment top 20', 1087, 2864, 28.5, { color: '#111' });
txt('Enrichment Score', 1087, 4064, 24, { color: '#111' });
(function () {
  const rainbow = [[0, [255, 0, 0]], [.015, [255, 255, 0]], [.023, [0, 255, 0]], [.038, [0, 255, 255]], [.05, [0, 0, 255]], [.063, [255, 0, 255]]];
  const pColor = p => {
    let i = 0;
    while (i < rainbow.length - 2 && p > rainbow[i + 1][0]) i++;
    const a = rainbow[i], b = rainbow[i + 1], t = Math.min(1, (p - a[0]) / (b[0] - a[0]));
    return 'rgb(' + a[1].map((v, k) => Math.round(v + (b[1][k] - v) * t)).join(',') + ')';
  };
  const radius = n => 3 + 1.07 * n;
  const m = { l: 742, r: 20, t: 20, b: 70 };
  new Chart(canvasAt(742, 2899, 1442, 4015, m), {
    type: 'bubble',
    data: { datasets: [{
      data: keggTerms.map((t, i) => ({ x: keggScore[i], y: t, r: radius(keggNumber[i]) })),
      backgroundColor: keggPvalue.map(pColor), borderWidth: 0
    }] },
    options: Object.assign(baseOpts(m, { frame: { color: '#333', width: 2, oy: 5 } }, true, true), { scales: {
      x: { type: 'linear', min: 1.7, max: 7.93, afterBuildTicks: fixedTicks(keggTicks), afterFit: fitX(m.b), border: { display: false },
        grid: { color: '#ebebeb', lineWidth: c => c.index % 2 ? 1 : 2.5, tickLength: 12, tickColor: c => c.index % 2 ? 'rgba(0,0,0,0)' : '#333', tickWidth: 2 },
        ticks: { color: '#4d4d4d', padding: 2, maxRotation: 0, autoSkip: false, font: { family: 'DejaVu Sans', size: 20 }, callback: v => v % 2 ? '' : String(v) } },
      y: { type: 'category', labels: keggTerms, offset: true, afterFit: fitY(m.l), border: { display: false },
        grid: { color: '#ebebeb', lineWidth: 2.5, offset: false, tickLength: 6, tickColor: '#333', tickWidth: 2 },
        ticks: { color: '#4d4d4d', padding: 12, autoSkip: false, font: { family: 'DejaVu Sans', size: 19 } } }
    } })
  });
  txt('Number', 1475, 3239, 24, { left: true, color: '#111' });
  const legendY = [3281, 3318, 3356, 3393];
  numberLegend.forEach((n, i) => {
    const r = radius(n);
    box(1493 - r, legendY[i] - r, 2 * r, 2 * r, 'border-radius:50%;background:#000;');
    txt(n.toFixed(1), 1524, legendY[i], 20, { left: true, color: '#111' });
  });
  txt('p-value', 1475, 3472, 24, { left: true, color: '#111' });
  colorBar(1475, 3494, 1512, 3680, 0, .0625, pvalueTicks,
    [[0, '#ff0000'], [.24, '#ffff00'], [.37, '#00ff00'], [.61, '#00ffff'], [.8, '#0000ff'], [1, '#ff00ff']],
    v => v.toFixed(2), 'DejaVu Sans', 20, 70);
})();

/* ---------- f ---------- */
txt('f', 1702, 2951, 105, { font: ARIAL, bold: true });
function gsea(g) {
  const none = { l: 0, r: 0, t: 0, b: 0 };
  const green = '#008a00';
  const mUp = { l: 70, r: 4, t: 4, b: 0 };
  const fmt = v => minus(v.toFixed(1));
  const tickFont = { family: 'DejaVu Sans', size: 16 };
  new Chart(canvasAt(g.L, 3224, g.R, 3512, mUp), {
    type: 'scatter',
    data: { datasets: [
      { data: [{ x: g.xmin, y: 0 }, { x: g.xmax, y: 0 }], showLine: true, borderColor: '#b5b5b5', borderWidth: 2, pointRadius: 0 },
      { data: zip(g.rank, g.score), showLine: true, borderColor: green, borderWidth: 5, pointRadius: 0, borderJoinStyle: 'miter' },
      { data: [{ x: g.xmin, y: g.peak }, { x: g.peakRank, y: g.peak }, { x: g.peakRank, y: 0 }], showLine: true, borderColor: '#00a651', borderWidth: 2.5, borderDash: [8, 5], pointRadius: 0 }
    ] },
    options: Object.assign(baseOpts(mUp, { frame: { color: '#333', width: 2.5 } }, false, true), { scales: {
      x: { type: 'linear', display: false, min: g.xmin, max: g.xmax },
      y: { min: g.ymin, max: g.ymax, afterBuildTicks: fixedTicks(g.ticks), afterFit: fitY(mUp.l), border: { display: false }, grid: { display: false },
        ticks: { color: '#333', padding: 14, font: tickFont, callback: fmt } }
    } })
  });
  const hitSegs = [];
  g.hits.forEach(h => hitSegs.push({ x: h, y: 0 }, { x: h, y: 1 }, { x: h, y: null }));
  new Chart(canvasAt(g.L, 3512, g.R, 3584, none), {
    type: 'scatter',
    data: { datasets: [{ data: hitSegs, showLine: true, borderColor: '#333', borderWidth: 1.3, pointRadius: 0 }] },
    options: Object.assign(baseOpts(none, { frame: { color: '#222', width: 3 } }), { scales: {
      x: { type: 'linear', display: false, min: g.xmin, max: g.xmax }, y: { display: false, min: 0, max: 1 }
    } })
  });
  const mRk = { l: 70, r: 4, t: 0, b: 4 };
  new Chart(canvasAt(g.L, 3584, g.R, 3799, mRk), {
    type: 'scatter',
    data: { datasets: [
      { data: zip(metricRank, metricValue), showLine: true, fill: 'origin', backgroundColor: '#c2c2c2', borderWidth: 0, pointRadius: 0 },
      { data: [{ x: 0, y: 6.5 }, { x: metricRank[metricRank.length - 1], y: 6.5 }], showLine: true, borderWidth: 0, pointRadius: 0, fill: { value: 4.6 },
        backgroundColor: ctx => {
          const s = ctx.chart.scales.x;
          const x0 = s ? s.getPixelForValue(0) : NaN, x1 = s ? s.getPixelForValue(metricRank[metricRank.length - 1]) : NaN;
          if (!Number.isFinite(x0) || !Number.isFinite(x1)) return '#fff';
          const gr = ctx.chart.ctx.createLinearGradient(x0, 0, x1, 0);
          [[0, '#ff0000'], [.04, '#ff8a8a'], [.2, '#ffc4c4'], [.45, '#ffe4e4'], [.58, '#ffffff'], [.68, '#f6f6ff'], [.85, '#d8d8ff'], [.96, '#a0a0ff'], [1, '#0000ff']].forEach(k => gr.addColorStop(k[0], k[1]));
          return gr;
        } },
      { data: [{ x: 9713, y: -5.1 }, { x: 9713, y: 4.6 }], showLine: true, borderColor: '#aaa', borderWidth: 1.5, borderDash: [3, 2], pointRadius: 0 }
    ] },
    options: Object.assign(baseOpts(mRk, { frame: { color: '#222', width: 3 } }, false, true), { scales: {
      x: { type: 'linear', display: false, min: g.xmin, max: g.xmax },
      y: { min: -5.1, max: 6.55, afterBuildTicks: fixedTicks(metricTicks), afterFit: fitY(mRk.l), border: { display: false }, grid: { display: false },
        ticks: { color: '#333', padding: 14, font: tickFont, callback: fmt } }
    } })
  });
  txt(g.title, g.titleX, 3187, 20.8, { bold: true, color: '#222' });
  txt('Enrichment score (ES)', g.esX, 3368, 24, { rot: -90, color: '#222' });
  txt('Ranked Metric', g.rmX, 3711, 22.5, { rot: -90, color: '#222' });
  txt('(signal_to_noise)', g.rmX + 27, 3711, 24, { rot: -90, color: '#222' });
  txt(g.esText, g.esTextX, g.esTextY, 20, { left: true, color: '#222' });
  txt(g.nesText, g.nesX, 3476, 20.5, { left: true, color: '#222' });
  txt('AS', g.asX, 3662, 17, { color: '#e00000' });
  txt('HC', g.hcX, 3775, 17, { color: '#000090' });
  txt('Zero score at 9713', g.zeroX, 3736, 14, { color: '#222' });
}
gsea({ L: 1866, R: 2496, xmin: -144, xmax: 16353, ymin: -.084, ymax: .607, ticks: es1Ticks, rank: es1Rank, score: es1Score, hits: hits1,
  peak: .576, peakRank: 4770, title: 'fatty acid beta-oxidation(GO:0006635)', titleX: 2171, esX: 1804, rmX: 1773,
  esText: 'ES: 0.576', esTextX: 2055, esTextY: 3230, nesText: 'NES: 1.83, p: 0.001, FDR: 0.141', nesX: 1929, asX: 1927, hcX: 2453, zeroX: 2243 });
gsea({ L: 2698, R: 3326, xmin: -159, xmax: 16341, ymin: -.665, ymax: .034, ticks: es2Ticks, rank: es2Rank, score: es2Score, hits: hits2,
  peak: -.633, peakRank: 12003, title: 'type I interferon signaling pathway(GO:0060337)', titleX: 3005, esX: 2629, rmX: 2603,
  esText: 'ES:\u22120.633', esTextX: 3162, esTextY: 3492, nesText: 'NES:\u22122.42, p<0.001, FDR: 0.0', nesX: 2761, asX: 2759, hcX: 3283, zeroX: 3073 });
</script>
</body>
</html>
